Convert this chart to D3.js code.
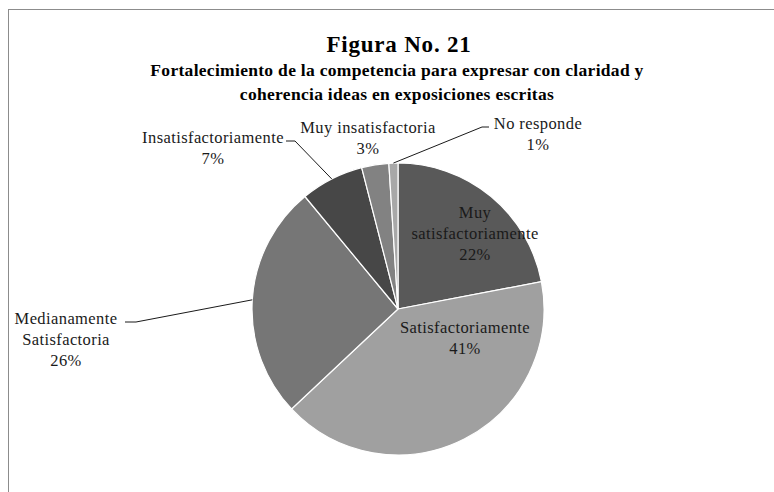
<!DOCTYPE html>
<html>
<head>
<meta charset="utf-8">
<script src="https://cdn.jsdelivr.net/npm/d3@7"></script>
<style>
  body { margin: 0; background: #fff; }
  text { font-family: "Liberation Serif", serif; fill: #1a1a1a; }
</style>
</head>
<body>
<div id="chart"></div>
<script>
//Datos
const categorias = ['Muy satisfactoriamente', 'Satisfactoriamente', 'Medianamente Satisfactoria', 'Insatisfactoriamente', 'Muy insatisfactoria', 'No responde'];
const valores = [22, 41, 26, 7, 3, 1];
const etiquetas = [['Muy', 'satisfactoriamente', '22%'], ['Satisfactoriamente', '41%'], ['Medianamente', 'Satisfactoria', '26%'], ['Insatisfactoriamente', '7%'], ['Muy insatisfactoria', '3%'], ['No responde', '1%']];
const titulo = ['Figura No. 21', 'Fortalecimiento de la competencia para expresar con claridad y', 'coherencia ideas en exposiciones escritas'];

//Colores fijos
const COLORES = ['#595959', '#a0a0a0', '#767676', '#474747', '#828282', '#a8a8a8'];

//Posición de las etiquetas (relativa al centro) y si llevan línea guía
const LAYOUT = [
    { x: 77, y: -96, line: false },
    { x: 67, y: 19, line: false },
    { x: -332, y: 10, line: true, lx: -273, hx: -262 },
    { x: -185, y: -171, line: true, lx: -112, hx: -103 },
    { x: -30, y: -181, line: false },
    { x: 140, y: -185, line: true, lx: 91, hx: 84 }
];

const width = 774, height = 492;
const cx = 398, cy = 309, radius = 146;

let svg = d3.select('#chart')
    .append('svg')
        .attr('width', width)
        .attr('height', height);

//Marco
svg.append('rect')
    .attr('x', 8.5)
    .attr('y', 9.5)
    .attr('width', width + 20)
    .attr('height', height + 20)
    .attr('fill', 'none')
    .attr('stroke', '#8c8c8c')
    .attr('stroke-width', 1);

//Título
svg.append('text')
    .attr('x', 399)
    .attr('y', 52)
    .attr('text-anchor', 'middle')
    .style('font-size', '23px')
    .style('letter-spacing', '0.8px')
    .style('font-weight', 'bold')
    .style('fill', '#000')
    .text(titulo[0]);

titulo.slice(1).forEach(function(t, i) {
    svg.append('text')
        .attr('x', 397)
        .attr('y', 76 + i * 24)
        .attr('text-anchor', 'middle')
        .style('font-size', '17.5px')
        .style('letter-spacing', '0.3px')
        .style('font-weight', 'bold')
        .style('fill', '#000')
        .text(t);
});

let data = categorias.map(function(c, i) { return { cat: c, value: valores[i], idx: i }; });

let pie = d3.pie()
    .value(function(d) { return d.value; })
    .sort(null);

let arc = d3.arc()
    .innerRadius(0)
    .outerRadius(radius);

let g = svg.append('g')
    .attr('transform', 'translate(' + cx + ',' + cy + ')');

let arcs = pie(data);

g.selectAll('path')
    .data(arcs)
    .enter()
    .append('path')
    .attr('d', arc)
    .attr('fill', function(d) { return COLORES[d.data.idx]; })
    .attr('stroke', '#fff')
    .attr('stroke-width', 1.2);

//Líneas guía
arcs.forEach(function(d) {
    let l = LAYOUT[d.data.idx];
    if (!l.line) return;
    let mid = (d.startAngle + d.endAngle) / 2;
    let px = Math.sin(mid) * radius, py = -Math.cos(mid) * radius;
    let ly = l.y + 3;
    g.append('polyline')
        .attr('points', [[l.lx, ly], [l.hx, ly], [px, py]].map(function(p) { return p.join(','); }).join(' '))
        .attr('fill', 'none')
        .attr('stroke', '#1a1a1a')
        .attr('stroke-width', 1);
});

//Etiquetas
arcs.forEach(function(d) {
    let l = LAYOUT[d.data.idx];
    let lines = etiquetas[d.data.idx];
    let t = g.append('text')
        .attr('text-anchor', 'middle')
        .style('font-size', '16.5px')
        .style('letter-spacing', '0.4px');
    lines.forEach(function(s, i) {
        t.append('tspan')
            .attr('x', l.x)
            .attr('y', l.y + 5 + i * 21)
            .text(s);
    });
});
</script>
</body>
</html>
